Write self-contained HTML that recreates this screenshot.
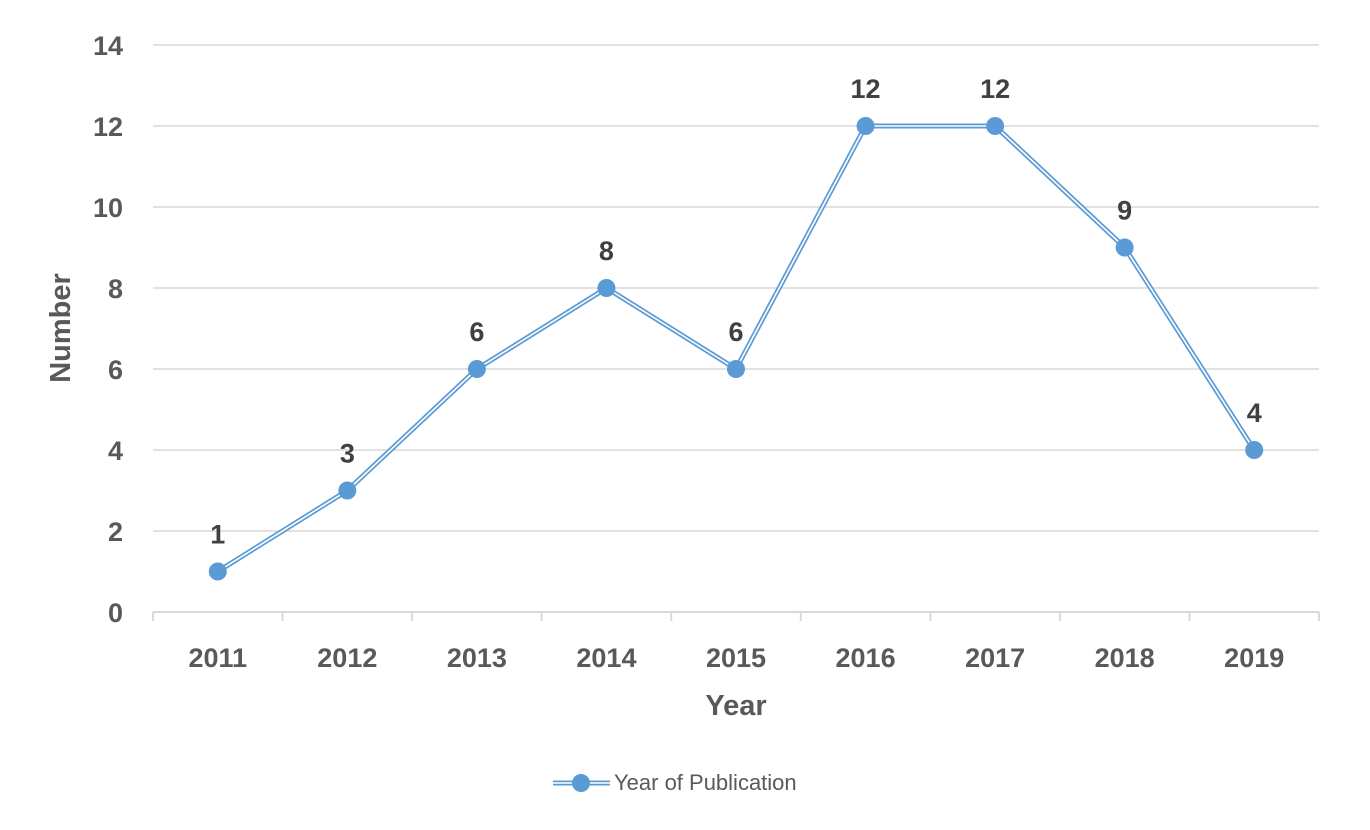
<!DOCTYPE html>
<html><head><meta charset="utf-8"><style>
body{margin:0;background:#fff;}
svg text{font-family:"Liberation Sans",sans-serif;}
</style></head><body>
<svg id="chart" width="1370" height="825" viewBox="0 0 1370 825" xmlns="http://www.w3.org/2000/svg">
<g id="grid"></g><g id="axes"></g><g id="series"></g><g id="labels"></g>
<text transform="translate(70,328) rotate(-90)" text-anchor="middle" font-size="29" font-weight="bold" fill="#595959">Number</text>
<text x="736" y="715" text-anchor="middle" font-size="29" font-weight="bold" fill="#595959">Year</text>
<g>
<line x1="553" y1="783" x2="610" y2="783" stroke="#5b9bd5" stroke-width="5"/>
<line x1="553" y1="783" x2="610" y2="783" stroke="#fff" stroke-width="1.6"/>
<circle cx="581" cy="783" r="9" fill="#5b9bd5"/>
<text x="614" y="790" font-size="22" fill="#595959">Year of Publication</text>
</g>
</svg>
<script>
const categories=["2011","2012","2013","2014","2015","2016","2017","2018","2019"];
const values=[1,3,6,8,6,12,12,9,4];
const yTicks=[0,2,4,6,8,10,12,14];
const ns="http://www.w3.org/2000/svg";
const L=153,R=1319,T=45,B=612,yMax=14;
const bw=(R-L)/categories.length;
const xs=i=>L+bw*(i+0.5);
const ys=v=>B-(v/yMax)*(B-T);
function mk(tag,attrs,parent){const e=document.createElementNS(ns,tag);for(const k in attrs)e.setAttribute(k,attrs[k]);document.getElementById(parent).appendChild(e);return e;}
yTicks.forEach(t=>{
 if(t>0){const g=mk('line',{x1:L,x2:R,y1:ys(t),y2:ys(t),stroke:'#d9d9d9','stroke-width':1.5},'grid');
 
 }
 const tx=mk('text',{x:123,y:ys(t)+10,'text-anchor':'end','font-size':27,'font-weight':'bold',fill:'#595959'},'axes');
 tx.textContent=t;
 
 
});
const ax=mk('line',{x1:L,x2:R,y1:B,y2:B,stroke:'#d9d9d9','stroke-width':2},'axes');


for(let i=0;i<=categories.length;i++){
 const tk=mk('line',{x1:L+bw*i,x2:L+bw*i,y1:B,y2:B+9,stroke:'#d9d9d9','stroke-width':2},'axes');
 
 
}
categories.forEach((c,i)=>{
 const tx=mk('text',{x:xs(i),y:667,'text-anchor':'middle','font-size':27,'font-weight':'bold',fill:'#595959'},'axes');
 tx.textContent=c;
 
 
});
const pts=values.map((v,i)=>xs(i)+','+ys(v)).join(' ');
const l1=mk('polyline',{points:pts,fill:'none',stroke:'#5b9bd5','stroke-width':5,'stroke-linejoin':'round'},'series');


const l2=mk('polyline',{points:pts,fill:'none',stroke:'#fff','stroke-width':1.6,'stroke-linejoin':'round'},'series');


values.forEach((v,i)=>{
 const c=mk('circle',{cx:xs(i),cy:ys(v),r:9,fill:'#5b9bd5'},'series');
 
 
 const t=mk('text',{x:xs(i),y:ys(v)-28,'text-anchor':'middle','font-size':27,'font-weight':'bold',fill:'#404040'},'labels');
 t.textContent=v;
 
 
});
</script>
</body></html>
